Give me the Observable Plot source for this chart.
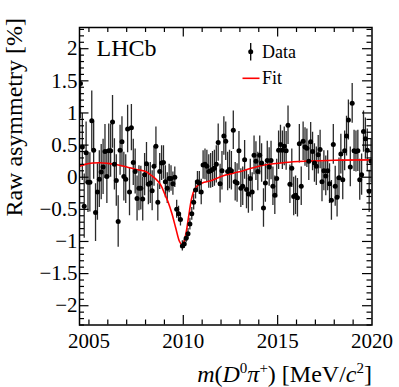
<!DOCTYPE html>
<html><head><meta charset="utf-8">
<script src="https://cdn.jsdelivr.net/npm/d3@7"></script>
<script src="https://cdn.jsdelivr.net/npm/@observablehq/plot@0.6"></script>
<style>html,body{margin:0;padding:0;background:#fff} svg{display:block}</style>
</head><body><div id="chart"></div>
<script>
// Binning of the data histogram (MeV/c^2)
const binLow = 2004.5;
const binWidth = 0.1;

// Raw asymmetry per bin [%]
const asym = [
 1.46, 0.47,-0.45, 0.38,-0.08,-0.08, 0.88, 0.42,-0.55,-0.23,
-0.03, 0.08, 0.16, 0.40, 0.01, 0.41, 0.41, 0.86, 0.20,-0.05,
-0.69, 0.42, 0.55, 0.01,-0.03, 0.75,-0.23, 0.77, 0.23, 0.09,
-0.33,-0.17,-0.17,-0.34, 0.04, 0.21,-0.11,-0.09,-0.21, 0.17,
 0.48,-0.39, 0.09, 0.22, 0.23,-0.07,-0.17,-0.02,-0.02,-0.10,
 0.00,-0.50,-0.57,-0.66,-1.07,-1.04,-0.95,-0.88,-0.73,-0.57,
-0.39,-0.20,-0.07,-0.09,-0.23, 0.19, 0.20, 0.17, 0.09, 0.10,
 0.12, 0.14, 0.20, 0.54,-0.10, 0.10, 0.64, 0.56, 0.09, 0.12,
 0.10, 0.73,-0.07,-0.09, 0.41,-0.17,-0.14, 0.27,-0.19,-0.26,
-0.02,-0.23, 0.34, 0.25, 0.09, 0.34, 0.22,-0.48,-0.09, 0.26,
 0.16, 0.26,-0.14,-0.28,-0.02, 0.42, 0.51, 0.42, 0.48, 0.41,
 0.81,-0.11, 0.14,-0.30,-0.28,-0.32, 0.52,-0.14, 0.56, 0.47,
 0.45, 0.25, 0.55, 0.40, 0.22, 0.17, 0.35, 0.43,-0.07, 0.10,
 0.02, 0.10,-0.10,-0.36, 0.51,-0.14,-0.31,-0.01, 0.36,-0.04,
 0.41, 0.64, 0.89, 0.16, 1.15, 0.41, 0.40, 0.41,-0.04, 0.04,
 0.71, 0.60, 0.42,-0.22, 0.25
];

// Uncertainty per bin [%]
const asymErr = [
 0.55,0.52,0.50,0.48,0.47,0.46,0.46,0.45,0.45,0.44,
 0.44,0.43,0.43,0.42,0.42,0.42,0.41,0.41,0.40,0.40,
 0.40,0.39,0.39,0.38,0.38,0.37,0.37,0.36,0.36,0.35,
 0.35,0.35,0.34,0.34,0.33,0.33,0.32,0.32,0.31,0.31,
 0.30,0.29,0.28,0.27,0.26,0.25,0.24,0.22,0.20,0.18,
 0.16,0.14,0.12,0.10,0.08,0.07,0.07,0.08,0.09,0.10,
 0.12,0.14,0.16,0.18,0.20,0.22,0.24,0.25,0.26,0.27,
 0.28,0.28,0.29,0.29,0.30,0.30,0.30,0.30,0.30,0.30,
 0.30,0.30,0.30,0.30,0.30,0.30,0.30,0.30,0.30,0.30,
 0.30,0.30,0.30,0.30,0.30,0.30,0.30,0.30,0.30,0.30,
 0.30,0.30,0.30,0.30,0.30,0.30,0.30,0.30,0.30,0.30,
 0.30,0.30,0.30,0.30,0.30,0.30,0.30,0.30,0.30,0.30,
 0.30,0.30,0.30,0.30,0.30,0.30,0.30,0.30,0.31,0.31,
 0.31,0.31,0.31,0.31,0.31,0.31,0.31,0.31,0.31,0.31,
 0.31,0.31,0.31,0.31,0.31,0.32,0.32,0.32,0.32,0.32,
 0.32,0.32,0.33,0.33,0.34
];

// Fit curve (mass, asymmetry)
const fitMass = [2004.5,2004.8,2005.2,2005.6,2006.0,2006.5,2007.0,2007.5,2008.0,2008.3,
 2008.55,2008.8,2009.0,2009.2,2009.4,2009.6,2009.8,2009.92,2010.02,2010.15,
 2010.3,2010.45,2010.6,2010.8,2011.1,2011.5,2012.2,2012.9,2013.6,2014.3,
 2015.4,2016.5,2018.0,2020.0];
const fitAsym = [0.17,0.20,0.22,0.225,0.215,0.195,0.16,0.12,0.09,0.03,
 -0.03,-0.12,-0.25,-0.39,-0.57,-0.79,-1.00,-1.05,-1.02,-0.86,
 -0.58,-0.32,-0.19,-0.12,-0.08,-0.05,0.03,0.08,0.14,0.19,
 0.23,0.25,0.265,0.27];

// Axes
const xTickLabels = [2005, 2010, 2015, 2020];
const xMajor = [2010, 2015];
const xMinor = [2005,2006,2007,2008,2009,2011,2012,2013,2014,2016,2017,2018,2019];
const yTickLabels = [-2,-1.5,-1,-0.5,0,0.5,1,1.5,2];
const yMinor = d3.range(-23, 24).map(k => k / 10).filter(v => Math.abs(v * 2 - Math.round(v * 2)) > 1e-6);

const W = 399, H = 387;
const mL = 79, mR = 27.5, mT = 27, mB = 62.5;
const innerW = W - mL - mR, innerH = H - mT - mB;

const data = asym.map((v, i) => ({m: binLow + binWidth * (i + 0.5), v, e: asymErr[i]}));
const fit = fitMass.map((m, i) => ({m, a: fitAsym[i]}));
const fmt = d => d < 0 ? "\u2212" + Math.abs(d) : String(d);
const serif = "Liberation Serif";

const majL = 9.5, minL = 5;

const chart = Plot.plot({
  width: W, height: H,
  marginLeft: mL, marginRight: mR, marginTop: mT, marginBottom: mB,
  style: {fontFamily: serif, background: "white", color: "black", overflow: "visible"},
  x: {domain: [2004.5, 2020], axis: null},
  y: {domain: [-2.3, 2.33], axis: null},
  marks: [
    Plot.ruleX(data, {x: "m", y1: d => d.v - d.e, y2: d => d.v + d.e, stroke: "#2a2a2a", strokeWidth: 1.3, clip: true}),
    Plot.line(fit, {x: "m", y: "a", stroke: "#ff0000", strokeWidth: 1.6, curve: "catmull-rom", clip: true}),
    Plot.dot(data, {x: "m", y: "v", r: 2.5, fill: "black", stroke: "none", clip: true}),
    // ticks, inward, on all four sides
    Plot.tickX(xMajor, {x: d => d, insetTop: innerH - majL, stroke: "black", strokeWidth: 1.2}),
    Plot.tickX(xMinor, {x: d => d, insetTop: innerH - minL, stroke: "black", strokeWidth: 1.2}),
    Plot.tickX(xMajor, {x: d => d, insetBottom: innerH - majL, stroke: "black", strokeWidth: 1.2}),
    Plot.tickX(xMinor, {x: d => d, insetBottom: innerH - minL, stroke: "black", strokeWidth: 1.2}),
    Plot.tickY(yTickLabels, {y: d => d, insetRight: innerW - majL, stroke: "black", strokeWidth: 1.2}),
    Plot.tickY(yMinor, {y: d => d, insetRight: innerW - minL, stroke: "black", strokeWidth: 1.2}),
    Plot.tickY(yTickLabels, {y: d => d, insetLeft: innerW - majL, stroke: "black", strokeWidth: 1.2}),
    Plot.tickY(yMinor, {y: d => d, insetLeft: innerW - minL, stroke: "black", strokeWidth: 1.2}),
    Plot.frame({stroke: "black", strokeWidth: 1.5}),
    // tick labels
    Plot.text(xTickLabels, {x: d => d, frameAnchor: "bottom", lineAnchor: "middle", dy: 16, text: d => String(d), fontSize: 21, fontFamily: serif, fill: "black"}),
    Plot.text(yTickLabels, {y: d => d, frameAnchor: "left", textAnchor: "end", lineAnchor: "middle", dx: -2, text: fmt, fontSize: 21, fontFamily: serif, fill: "black"}),
    // experiment label
    Plot.text(["LHCb"], {frameAnchor: "top-left", textAnchor: "start", lineAnchor: "bottom", dx: 17, dy: 28, fontSize: 24, fontFamily: serif, fill: "black"})
  ]
});

const svg = d3.select(chart);
// Legend
const lg = svg.append("g").attr("text-anchor", "start");
lg.append("line").attr("x1", 250.7).attr("x2", 250.7).attr("y1", 43).attr("y2", 60.5).attr("stroke", "black").attr("stroke-width", 1.3);
lg.append("circle").attr("cx", 250.7).attr("cy", 51.7).attr("r", 2.5).attr("fill", "black");
lg.append("text").attr("x", 262).attr("y", 57.5).attr("text-anchor", "start").attr("font-family", serif).attr("font-size", 18).attr("fill", "black").text("Data");
lg.append("line").attr("x1", 242.5).attr("x2", 259.5).attr("y1", 78.3).attr("y2", 78.3).attr("stroke", "#ff0000").attr("stroke-width", 1.6);
lg.append("text").attr("x", 262).attr("y", 83.5).attr("text-anchor", "start").attr("font-family", serif).attr("font-size", 18).attr("fill", "black").text("Fit");

// Axis titles
svg.append("text")
  .attr("transform", "translate(22,18) rotate(-90)")
  .attr("text-anchor", "end")
  .attr("font-family", serif).attr("font-size", 24).attr("fill", "black")
  .text("Raw asymmetry [%]");

const xt = svg.append("text")
  .attr("x", 372).attr("y", 382)
  .attr("text-anchor", "end")
  .attr("font-family", serif).attr("font-size", 24).attr("fill", "black");
const parts = [
  ["m", "italic", 0], ["(", null, 0], ["D", "italic", 0], ["0", null, -9, 15], ["\u03c0", "italic", 9], ["+", null, -9, 15],
  [") [MeV/", null, 9], ["c", "italic", 0], ["2", null, -9, 15], ["]", null, 9]
];
for (const [t, style, dy, fs] of parts) {
  const s = xt.append("tspan").text(t);
  if (style) s.attr("font-style", style);
  if (dy) s.attr("dy", dy);
  if (fs) s.attr("font-size", fs);
}

document.getElementById("chart").appendChild(chart);
</script>
</body></html>
